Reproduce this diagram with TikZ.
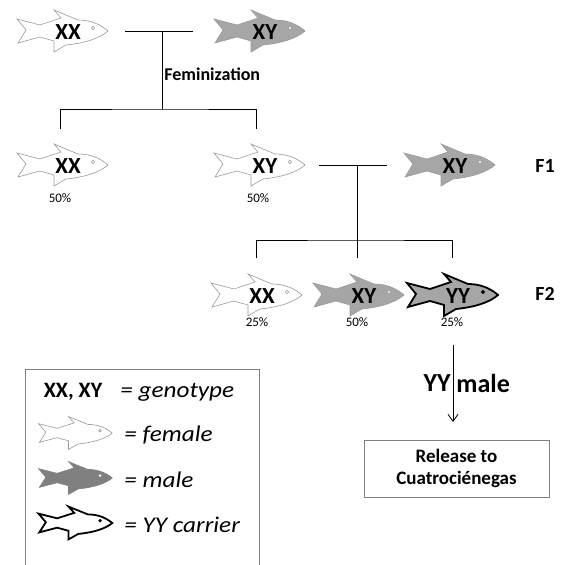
\documentclass[tikz,border=0pt]{standalone}
\usepackage{fontspec}
\setmainfont{Carlito}
\newfontfamily\keyfont{Carlito}[FakeStretch=1.12]
\usepackage{tikz}
\usetikzlibrary{arrows.meta}

\definecolor{finline}{gray}{0.6}
\definecolor{malefill}{gray}{0.65}
\definecolor{keymale}{gray}{0.5}

\tikzset{
  fish eye/.style={fill=white},
  pics/fish/.style={code={
    \draw[pic actions] (-45,-12) -- (-36,-1) -- (-44,12) -- (-22,6) -- (-8,10) -- (-8,21) -- (4,14)
      .. controls (24,12) and (38,7) .. (46,0)
      .. controls (38,-7) and (28,-11) .. (16,-11) -- (-8,-21) -- (-1,-13) -- (-22,-6) -- cycle;
    \draw[pic actions,fish eye] (31,-3) circle (1.7);
    \coordinate (-nose) at (46,0);
    \coordinate (-tail) at (-45,0);
  }}
}

\begin{document}
\begin{tikzpicture}
[x=1pt,y=-1pt,line width=0.8pt]
\tikzstyle{female}=[draw=finline,fill=white,line width=0.6pt]
\tikzstyle{male}=[draw=finline,fill=malefill,line width=0.6pt]
\tikzstyle{yy}=[draw=black,fill=malefill,line width=1.8pt,fish eye/.style={fill=black,line width=0.6pt}]
\tikzstyle{small fish}=[xscale=0.81,yscale=0.78]
\tikzstyle{geno}=[font=\fontsize{23}{23}\selectfont\bfseries,inner sep=0]
\tikzstyle{pct}=[font=\fontsize{13}{13}\selectfont,inner sep=0]
\tikzstyle{gen}=[font=\fontsize{20}{20}\selectfont\bfseries,inner sep=0]
\tikzstyle{key}=[font=\keyfont\fontsize{22.5}{22.5}\selectfont\itshape,anchor=west,inner sep=0]

\useasboundingbox (0,0) rectangle (566,565);

\pic[female] (a) at (62,31) {fish};
\pic[male] (b) at (259,31) {fish};
\node[geno] (a1) at (68,32) {XX};
\node[geno] (b1) at (265,32) {XY};

\coordinate (m1) at (162,32);
\coordinate (s1) at (162,109);
\coordinate (c0) at (60,129);
\coordinate (d0) at (256,129);
\draw ([xshift=17]a-nose) -- ([xshift=-21]b-tail);
\draw (m1) -- (s1);
\draw (c0) |- (s1) -| (d0);
\node[anchor=west,font=\fontsize{18}{18}\selectfont\bfseries,inner sep=0] (fem) at (164,74) {Feminization};

\pic[female] (c) at (62,165) {fish};
\pic[female] (d) at (259,165) {fish};
\pic[male] (e) at (449,165) {fish};
\node[geno] (c1) at (68,166) {XX};
\node[geno] (d1) at (265,166) {XY};
\node[geno] (e1) at (455,166) {XY};
\node[pct] (c2) at (60,198) {50\%};
\node[pct] (d2) at (258,198) {50\%};
\node[gen] (f1) at (545,166) {F1};

\coordinate (m2) at (357,165);
\coordinate (s2) at (357,240);
\coordinate (h0) at (357,258);
\coordinate (g0) at (256,258);
\coordinate (i0) at (452,258);
\draw ([xshift=14]d-nose) -- ([xshift=-17]e-tail);
\draw (m2) -- (h0);
\draw (g0) |- (s2) -| (i0);

\pic[female] (g) at (256,295) {fish};
\pic[male] (h) at (358,295) {fish};
\pic[yy] (i) at (452,295) {fish};
\node[geno] (g1) at (262,296) {XX};
\node[geno] (h1) at (364,296) {XY};
\node[geno] (i1) at (458,296) {YY};
\node[pct] (g2) at (257,322) {25\%};
\node[pct] (h2) at (357,322) {50\%};
\node[pct] (i2) at (452,322) {25\%};
\node[gen] (f2) at (545,294) {F2};

\node[draw=gray,line width=0.6pt,minimum width=185,minimum height=57,align=center,
  font=\fontsize{19}{22}\selectfont\bfseries] (r) at (456.5,468.5) {Release to\\Cuatrociénegas};
\coordinate (r0) at (453,345);
\draw[-{Straight Barb[length=7pt,width=10pt]}] (r0) -- (r0 |- 0,422);
\node[anchor=east,font=\fontsize{26}{26}\selectfont\bfseries,inner sep=0] (yy) at (451,383) {YY};
\node[anchor=west,font=\fontsize{26}{26}\selectfont\bfseries,inner sep=0] (ml) at (456,383) {male};

\draw[draw=gray,line width=0.6pt] (25,369) rectangle (259,580);
\node[font=\fontsize{22}{22}\selectfont\bfseries,inner sep=0] (k0) at (73,392) {XX, XY};
\node[key] (k1) at (120,392) {= genotype};
\pic[female,small fish] (p) at (75,433) {fish};
\pic[draw=keymale,fill=keymale,line width=0.6pt,small fish,fish eye/.style={fill=white,draw=none}] (q) at (75,478) {fish};
\pic[draw=black,fill=white,line width=1.8pt,small fish,fish eye/.style={fill=black,line width=0.6pt}] (t) at (75,523) {fish};
\node[key] (k2) at (124,435) {= female};
\node[key] (k3) at (124,480) {= male};
\node[key] (k4) at (124,525) {= YY carrier};
\end{tikzpicture}
\end{document}
